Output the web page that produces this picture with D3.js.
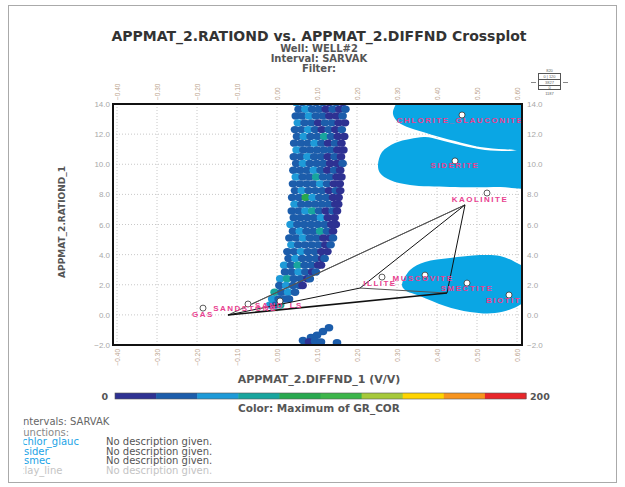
<!DOCTYPE html>
<html>
<head>
<meta charset="utf-8">
<title>Crossplot</title>
<script src="https://d3js.org/d3.v7.min.js"></script>
<style>
    body { margin: 0; background: #fff; }
    svg { display: block; font-family: "Liberation Sans", Arial, sans-serif; }
    .wide { font-family: "DejaVu Sans", Verdana, sans-serif; }
</style>
</head>
<body>
<svg width="625" height="487"></svg>
<script>
// ---- data ----
var xTicks = [-0.4, -0.3, -0.2, -0.1, 0.0, 0.1, 0.2, 0.3, 0.4, 0.5, 0.6];
var yTicks = [-2, 0, 2, 4, 6, 8, 10, 12, 14];
var colorBins = ['#2e3192', '#1c5dab', '#1e9ad8', '#18a59e', '#27a84f', '#3cb54a', '#a6c93a', '#ffd400', '#f7941d', '#e8262a'];
var grRange = [0, 200];

// cloud rows: [RATIOND, [DIFFND values], [GR values]]
var cloudRows = [
    [14.1, [.048,.064,.081,.098,.115,.131,.148,.165], [45,30,28,35,22,15,30,12]],
    [13.65,[.054,.071,.088,.105,.122,.139,.156,.171], [30,48,25,32,18,28,12,25]],
    [13.2, [.047,.063,.080,.097,.114,.131,.148,.164], [28,35,45,22,30,15,10,30]],
    [12.75,[.052,.069,.086,.103,.120,.137,.154,.170], [45,28,30,12,25,35,18,14]],
    [12.3, [.045,.061,.078,.095,.112,.129,.146,.162], [32,25,50,28,15,30,12,22]],
    [11.85,[.050,.067,.084,.101,.118,.135,.152,.168], [28,42,30,25,65,22,15,10]],
    [11.4, [.043,.060,.077,.094,.111,.128,.145,.161], [35,30,25,48,30,18,28,14]],
    [10.95,[.049,.066,.083,.100,.117,.134,.151,.166], [45,28,35,22,30,25,12,18]],
    [10.5, [.042,.059,.076,.093,.110,.127,.144,.160], [30,35,50,28,22,15,30,12]],
    [10.05,[.048,.065,.082,.099,.116,.133,.150,.164], [28,45,25,35,30,18,14,25]],
    [9.6,  [.041,.058,.075,.092,.109,.126,.143,.158], [35,22,30,48,28,15,25,12]],
    [9.15, [.047,.064,.081,.098,.115,.132,.149,.161], [45,30,28,70,25,30,12,18]],
    [8.7,  [.040,.057,.074,.091,.108,.125,.142,.157], [28,35,22,30,45,25,15,10]],
    [8.25, [.045,.062,.079,.096,.113,.130,.147,.158], [30,48,28,25,35,18,22,12]],
    [7.8,  [.038,.055,.072,.089,.106,.123,.140,.154], [25,30,85,45,28,30,15,12]],
    [7.35, [.044,.061,.078,.095,.112,.129,.146,.153], [48,28,30,22,35,25,12,18]],
    [6.9,  [.037,.054,.071,.088,.105,.122,.139,.150], [30,25,45,68,28,15,30,12]],
    [6.45, [.042,.059,.076,.093,.110,.127,.144], [28,35,30,25,45,18,14]],
    [6.0,  [.034,.051,.068,.085,.102,.119,.136,.147], [45,30,28,35,22,30,15,12]],
    [5.55, [.040,.057,.074,.091,.108,.125,.140], [25,48,30,28,65,22,15]],
    [5.1,  [.031,.048,.065,.082,.099,.116,.133,.140], [30,28,45,25,30,18,12,25]],
    [4.65, [.036,.053,.070,.087,.104,.121,.134], [45,30,25,35,22,15,28]],
    [4.2,  [.026,.043,.060,.077,.094,.111,.126], [28,35,48,30,25,12,18]],
    [3.75, [.029,.046,.063,.080,.097,.113,.119], [30,45,28,22,35,15,25]],
    [3.3,  [.018,.035,.052,.069,.086,.103,.110], [48,30,65,28,25,18,12]],
    [2.85, [.020,.037,.054,.071,.088,.097], [30,28,45,25,15,22]],
    [2.4,  [.008,.025,.042,.059,.076,.082], [45,70,30,28,18,25]],
    [1.95, [.006,.023,.040,.057,.064], [30,48,25,22,15]],
    [1.5,  [-.006,.011,.028,.045], [65,30,45,28]],
    [1.05, [-.012,.004,.020,.030], [45,30,25,35]],
    [0.65, [-.018,-.004,.008], [48,30,65]]
];
// few points below the cloud: [DIFFND, RATIOND, GR]
var strayPoints = [[0.13,-0.85,30],[0.115,-1.1,25],[0.1,-1.35,28],[0.085,-1.5,22],[0.065,-1.7,30],
    [0.08,-1.8,18],[0.095,-1.75,32],[0.11,-1.8,25],[0.15,-1.85,20]];

// mineral end points
var mineralNames = ['CHLORITE_GLAUCONITE','SIDERITE','KAOLINITE','ILLITE','MUSCOVITE','SMECTITE','BIOTITE','GAS','SANDSTONE','SAND_LS'];
var mineralX = [0.4625, 0.445, 0.525, 0.2625, 0.37, 0.475, 0.58, -0.185, -0.0725, 0.0075];
var mineralY = [13.27, 10.22, 8.09, 2.51, 2.64, 2.11, 1.32, 0.45, 0.72, 0.92];

// function polygons (DIFFND, RATIOND)
var chlorGlauc = [[0.3125,14.4],[0.295,13.87],[0.29,13.34],[0.3025,12.8],[0.3325,12.4],[0.3825,12.0],[0.445,11.54],[0.5075,11.14],[0.57,11.0],[0.6325,11.08],[0.6325,14.4]];
var sider = [[0.2525,9.95],[0.2625,10.81],[0.295,11.41],[0.3325,11.68],[0.37,11.81],[0.4075,11.61],[0.4575,11.28],[0.52,10.95],[0.5825,10.88],[0.6325,10.95],[0.6325,8.55],[0.5575,8.49],[0.4325,8.49],[0.3325,8.62],[0.2825,8.95],[0.2575,9.42]];
var smec = [[0.3125,1.98],[0.3325,2.98],[0.37,3.51],[0.4325,3.77],[0.5075,3.97],[0.5575,3.91],[0.595,3.51],[0.6325,2.84],[0.6325,1.25],[0.6025,0.59],[0.545,0.12],[0.4825,0.19],[0.42,0.59],[0.3575,1.25],[0.32,1.65]];

// clay line vertices and segments
var clayPts = { K: [0.47, 7.3], Q: [-0.1225, -0.01], P: [-0.0625, 0.72], I: [0.2075, 1.78], S: [0.425, 1.45] };
var claySegs = [['Q','K'],['P','K'],['I','K'],['K','S'],['I','S'],['Q','I'],['Q','S']];

var legendNames = ['chlor_glauc', 'sider', 'smec', 'clay_line'];

// ---- drawing ----
var svg = d3.select('svg');
var L = 113, R = 522, T = 104, B = 345;

var x = d3.scaleLinear().domain([-0.41, 0.6125]).range([L, R]);
var y = d3.scaleLinear().domain([-2, 14]).range([B, T]);
var color = d3.scaleQuantize().domain(grRange).range(colorBins);

// outer frame
svg.append('rect').attr('x', 8.5).attr('y', 5.5).attr('width', 608).attr('height', 477)
    .attr('fill', 'none').attr('stroke', '#aaa');

// titles
var titles = [
    ['APPMAT_2.RATIOND vs. APPMAT_2.DIFFND Crossplot', 41, 14],
    ['Well: WELL#2', 51.5, 10],
    ['Interval: SARVAK', 61.5, 10],
    ['Filter:', 71.5, 10]
];
svg.selectAll('.title').data(titles).enter().append('text')
    .attr('class', 'wide')
    .attr('x', 319).attr('y', function (d) { return d[1]; })
    .attr('text-anchor', 'middle').attr('font-weight', 'bold')
    .attr('font-size', function (d) { return d[2]; })
    .attr('fill', function (d, i) { return i === 0 ? '#333' : '#555'; })
    .text(function (d) { return d[0]; });

svg.append('clipPath').attr('id', 'plotclip').append('rect')
    .attr('x', L).attr('y', T).attr('width', R - L).attr('height', B - T);

var plot = svg.append('g').attr('clip-path', 'url(#plotclip)');

// grid
plot.selectAll('.gx').data(xTicks).enter().append('line')
    .attr('x1', x).attr('x2', x).attr('y1', T).attr('y2', B)
    .attr('stroke', '#c8c8c8').attr('stroke-dasharray', '1,2');
plot.selectAll('.gy').data(yTicks).enter().append('line')
    .attr('y1', y).attr('y2', y).attr('x1', L).attr('x2', R)
    .attr('stroke', '#c8c8c8').attr('stroke-dasharray', '1,2');

// function polygons
var area = d3.line().x(function (d) { return x(d[0]); }).y(function (d) { return y(d[1]); })
    .curve(d3.curveCatmullRomClosed.alpha(0.5));
plot.selectAll('.fn').data([chlorGlauc, sider, smec]).enter().append('path')
    .attr('d', area).attr('fill', '#0aa6e4');

// scatter cloud
var cloud = [];
cloudRows.forEach(function (r) {
    r[1].forEach(function (v, i) { cloud.push([v, r[0], r[2][i]]); });
});
cloud = cloud.concat(strayPoints);
plot.selectAll('.pt').data(cloud).enter().append('ellipse')
    .attr('cx', function (d) { return x(d[0]); })
    .attr('cy', function (d) { return y(d[1]); })
    .attr('rx', 4.3).attr('ry', 3.7)
    .attr('fill', function (d) { return color(d[2]); });

// clay lines
plot.selectAll('.clay').data(claySegs).enter().append('line')
    .attr('x1', function (d) { return x(clayPts[d[0]][0]); })
    .attr('y1', function (d) { return y(clayPts[d[0]][1]); })
    .attr('x2', function (d) { return x(clayPts[d[1]][0]); })
    .attr('y2', function (d) { return y(clayPts[d[1]][1]); })
    .attr('stroke', function (d, i) { return (i < 2 || i === 4) ? '#555' : '#111'; })
    .attr('stroke-width', function (d, i) { return i === 6 ? 1.6 : 1; });

// mineral points and labels
var labelShift = [[-2, 8], [0, 7], [-7, 9], [-2, 9], [-2, 6], [0, 8], [-2, 8], [0, 9], [-3, 7], [-1, 7]];
var minerals = plot.selectAll('.min').data(mineralNames).enter().append('g');
minerals.append('circle')
    .attr('cx', function (d, i) { return x(mineralX[i]); })
    .attr('cy', function (d, i) { return y(mineralY[i]); })
    .attr('r', 3).attr('fill', '#fff').attr('stroke', '#333').attr('stroke-width', 0.8);
minerals.append('text')
    .attr('x', function (d, i) { return x(mineralX[i]) + labelShift[i][0]; })
    .attr('y', function (d, i) { return y(mineralY[i]) + labelShift[i][1]; })
    .attr('text-anchor', 'middle').attr('font-size', 8).attr('letter-spacing', 1.5)
    .attr('font-weight', 'bold')
    .attr('fill', '#e8418f').text(function (d) { return d; });

// frame
svg.append('rect').attr('x', L).attr('y', T).attr('width', R - L).attr('height', B - T)
    .attr('fill', 'none').attr('stroke', '#111').attr('stroke-width', 2);

// axes
var fx = d3.format('.2f'), fy = d3.format('.1f');
var yl = svg.append('g').attr('transform', 'translate(' + (L - 3) + ',0)')
    .call(d3.axisLeft(y).tickValues(yTicks).tickFormat(fy).tickSize(0).tickPadding(0));
var yr = svg.append('g').attr('transform', 'translate(' + (R + 5) + ',0)')
    .call(d3.axisRight(y).tickValues(yTicks).tickFormat(fy).tickSize(0).tickPadding(0));
var xt = svg.append('g').attr('transform', 'translate(0,' + (T - 4) + ')')
    .call(d3.axisTop(x).tickValues(xTicks).tickFormat(fx).tickSize(0));
var xb = svg.append('g').attr('transform', 'translate(0,' + (B + 4) + ')')
    .call(d3.axisBottom(x).tickValues(xTicks).tickFormat(fx).tickSize(0));
[yl, yr, xt, xb].forEach(function (g) {
    g.select('.domain').remove();
    g.selectAll('text').attr('font-family', '"Liberation Sans", Arial, sans-serif');
});
[yl, yr].forEach(function (g) {
    g.selectAll('text').attr('font-size', 8).attr('fill', '#a8a8a8');
});
xt.selectAll('text').attr('transform', 'rotate(-90)').attr('x', 0).attr('y', 0).attr('dy', '0.35em')
    .style('text-anchor', 'start').attr('font-size', 6.5).attr('fill', '#bba48e');
xb.selectAll('text').attr('transform', 'rotate(-90)').attr('x', 0).attr('y', 0).attr('dy', '0.35em')
    .style('text-anchor', 'end').attr('font-size', 6.5).attr('fill', '#bba48e');

// axis titles
svg.append('text').attr('class', 'wide').attr('x', 319).attr('y', 383).attr('text-anchor', 'middle')
    .attr('font-size', 11).attr('font-weight', 'bold').attr('fill', '#555')
    .text('APPMAT_2.DIFFND_1 (V/V)');
svg.append('text').attr('class', 'wide').attr('transform', 'translate(65,222) rotate(-90)').attr('text-anchor', 'middle')
    .attr('font-size', 9).attr('font-weight', 'bold').attr('fill', '#555')
    .text('APPMAT_2.RATIOND_1');

// stats box (top right)
var sb = svg.append('g').attr('font-size', 4).attr('fill', '#666').attr('text-anchor', 'middle');
sb.append('rect').attr('x', 538.5).attr('y', 73.5).attr('width', 22).attr('height', 16)
    .attr('fill', '#fff').attr('stroke', '#555');
sb.append('line').attr('x1', 538.5).attr('x2', 560.5).attr('y1', 79.5).attr('y2', 79.5).attr('stroke', '#555');
sb.append('line').attr('x1', 538.5).attr('x2', 560.5).attr('y1', 85.5).attr('y2', 85.5).attr('stroke', '#555');
sb.append('line').attr('x1', 531).attr('x2', 536).attr('y1', 82.5).attr('y2', 82.5).attr('stroke', '#888');
sb.append('line').attr('x1', 563).attr('x2', 568).attr('y1', 82.5).attr('y2', 82.5).attr('stroke', '#888');
[['820', 72], ['0 | 120', 78], ['3827', 84], ['0', 89], ['1187', 95]].forEach(function (d) {
    sb.append('text').attr('x', 549.5).attr('y', d[1]).text(d[0]);
});

// colour bar
var cb = d3.scaleBand().domain(d3.range(colorBins.length)).range([115, 526]);
svg.selectAll('.cb').data(colorBins).enter().append('rect')
    .attr('x', function (d, i) { return cb(i); }).attr('y', 393)
    .attr('width', cb.bandwidth() + 0.5).attr('height', 6).attr('fill', function (d) { return d; });
svg.append('rect').attr('x', 115).attr('y', 393).attr('width', 411).attr('height', 6)
    .attr('fill', 'none').attr('stroke', '#555').attr('stroke-width', 0.6);
svg.append('text').attr('class', 'wide').attr('x', 108).attr('y', 400).attr('text-anchor', 'end')
    .attr('font-size', 9.5).attr('font-weight', 'bold').attr('fill', '#555').text(grRange[0]);
svg.append('text').attr('class', 'wide').attr('x', 530).attr('y', 400)
    .attr('font-size', 9.5).attr('font-weight', 'bold').attr('fill', '#555').text(grRange[1]);
svg.append('text').attr('class', 'wide').attr('x', 319).attr('y', 412).attr('text-anchor', 'middle')
    .attr('font-size', 10.5).attr('font-weight', 'bold').attr('fill', '#555')
    .text('Color: Maximum of GR_COR');

// legend, bottom left
svg.append('clipPath').attr('id', 'legclip').append('rect')
    .attr('x', 23.5).attr('y', 412).attr('width', 300).attr('height', 70);
var leg = svg.append('g').attr('class', 'wide').attr('clip-path', 'url(#legclip)').attr('font-size', 10);
leg.append('text').attr('x', 20).attr('y', 425).attr('fill', '#666').text('Intervals:  SARVAK');
leg.append('text').attr('x', 18).attr('y', 435.5).attr('fill', '#888').text('Functions:');
legendNames.forEach(function (n, i) {
    var last = i === legendNames.length - 1;
    var yy = 445 + i * 9.5;
    leg.append('text').attr('x', i === 0 ? 22 : (i === 3 ? 19 : 24)).attr('y', yy)
        .attr('fill', last ? '#c4c4c4' : '#1aa3e6').text(n);
    leg.append('text').attr('x', 106).attr('y', yy)
        .attr('fill', last ? '#c4c4c4' : '#555').text('No description given.');
});
</script>
</body>
</html>
